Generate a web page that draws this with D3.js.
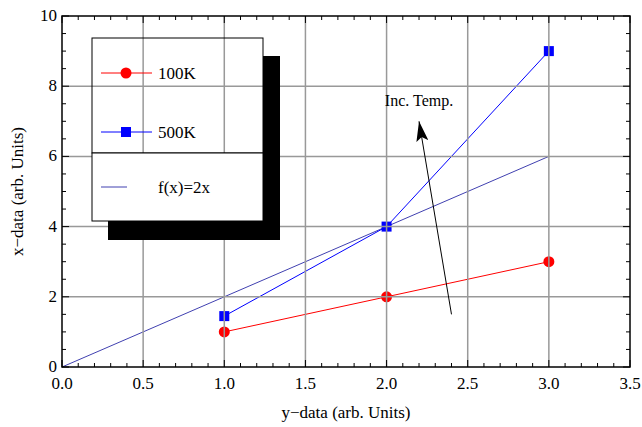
<!DOCTYPE html>
<html lang="en">
<head>
  <meta charset="UTF-8">
  <title>x-data vs y-data</title>
  <style>
    body { margin: 0; background: #fff; }
    svg text { font-family: "Liberation Serif", "DejaVu Serif", serif; fill: #000; }
  </style>
  <script src="https://d3js.org/d3.v7.min.js"></script>
</head>
<body>
<div id="chart"></div>
<script>
  // data
  var xs = [1, 2, 3];
  var series100K = [1, 2, 3];
  var series500K = [1.45, 4, 9];
  var lineX = [0, 3];          // f(x)=2x drawn over this range
  var xTicks = [0, 0.5, 1, 1.5, 2, 2.5, 3, 3.5];
  var yTicks = [0, 2, 4, 6, 8, 10];
  var arrowFrom = [2.4, 1.5];
  var arrowTo = [2.2, 7.0];

  var width = 642, height = 427;
  var pL = 62, pR = 630, pT = 16, pB = 367;

  var x = d3.scaleLinear().domain([0, 3.5]).range([pL, pR]);
  var y = d3.scaleLinear().domain([0, 10]).range([pB, pT]);

  var svg = d3.select("#chart").append("svg")
    .attr("width", width)
    .attr("height", height);

  svg.append("defs").append("marker")
    .attr("id", "head")
    .attr("viewBox", "0 0 20 12")
    .attr("refX", 20).attr("refY", 6)
    .attr("markerWidth", 20).attr("markerHeight", 12)
    .attr("markerUnits", "userSpaceOnUse")
    .attr("orient", "auto")
    .append("path")
    .attr("d", "M0,0 L20,6 L0,12 L4,6 Z")
    .attr("fill", "#000");

  // f(x)=2x
  var fLine = d3.line().x(function(d) { return x(d); }).y(function(d) { return y(2 * d); });
  svg.append("path")
    .datum(lineX)
    .attr("d", fLine)
    .attr("fill", "none")
    .attr("stroke", "#4040b0")
    .attr("stroke-width", 1);

  var line = d3.line()
    .x(function(d, i) { return x(xs[i]); })
    .y(function(d) { return y(d); });

  svg.append("path").datum(series100K).attr("d", line)
    .attr("fill", "none").attr("stroke", "#ff0000").attr("stroke-width", 1);
  svg.append("path").datum(series500K).attr("d", line)
    .attr("fill", "none").attr("stroke", "#0000ff").attr("stroke-width", 1);

  svg.selectAll(".dot100").data(series100K).enter().append("circle")
    .attr("cx", function(d, i) { return x(xs[i]); })
    .attr("cy", function(d) { return y(d); })
    .attr("r", 5.5)
    .attr("fill", "#ff0000");

  svg.selectAll(".sq500").data(series500K).enter().append("rect")
    .attr("x", function(d, i) { return x(xs[i]) - 5; })
    .attr("y", function(d) { return y(d) - 5; })
    .attr("width", 10).attr("height", 10)
    .attr("fill", "#0000ff");

  // grid lines (on top of data, like the original)
  var grid = svg.append("g").attr("stroke", "#999").attr("stroke-width", 1.5);
  grid.selectAll(".gx").data(xTicks.filter(function(d) { return d > 0 && d < 3.5; })).enter().append("line")
    .attr("x1", function(d) { return x(d); }).attr("x2", function(d) { return x(d); })
    .attr("y1", pT).attr("y2", pB);
  grid.selectAll(".gy").data(yTicks.filter(function(d) { return d > 0 && d < 10; })).enter().append("line")
    .attr("y1", function(d) { return y(d); }).attr("y2", function(d) { return y(d); })
    .attr("x1", pL).attr("x2", pR);

  // arrow + label
  svg.append("line")
    .attr("x1", x(arrowFrom[0])).attr("y1", y(arrowFrom[1]))
    .attr("x2", x(arrowTo[0])).attr("y2", y(arrowTo[1]))
    .attr("stroke", "#000").attr("stroke-width", 1)
    .attr("marker-end", "url(#head)");
  svg.append("text")
    .attr("x", x(arrowTo[0])).attr("y", y(7.45))
    .attr("text-anchor", "middle")
    .attr("font-size", 16)
    .text("Inc. Temp.");

  // frame and ticks
  var axisG = svg.append("g");
  function minorTicks(lo, hi, step) {
    var out = [];
    for (var v = lo; v <= hi + 1e-9; v += step) out.push(+v.toFixed(3));
    return out;
  }
  var xMinor = minorTicks(0, 3.5, 0.1);
  var yMinor = minorTicks(0, 10, 0.5);
  function isMajor(v, step) { return Math.abs(v / step - Math.round(v / step)) < 1e-6; }

  axisG.selectAll(".tb").data(xMinor).enter().append("line")
    .attr("x1", function(d) { return x(d); }).attr("x2", function(d) { return x(d); })
    .attr("y1", pB).attr("y2", function(d) { return pB - (isMajor(d, 0.5) ? 7 : 4); })
    .attr("stroke", "#000").attr("stroke-width", 1);
  axisG.selectAll(".tt").data(xMinor).enter().append("line")
    .attr("x1", function(d) { return x(d); }).attr("x2", function(d) { return x(d); })
    .attr("y1", pT).attr("y2", function(d) { return pT + (isMajor(d, 0.5) ? 7 : 4); })
    .attr("stroke", "#000").attr("stroke-width", 1);
  axisG.selectAll(".tl").data(yMinor).enter().append("line")
    .attr("y1", function(d) { return y(d); }).attr("y2", function(d) { return y(d); })
    .attr("x1", pL).attr("x2", function(d) { return pL + (isMajor(d, 2) ? 7 : 4); })
    .attr("stroke", "#000").attr("stroke-width", 1);
  axisG.selectAll(".tr").data(yMinor).enter().append("line")
    .attr("y1", function(d) { return y(d); }).attr("y2", function(d) { return y(d); })
    .attr("x1", pR).attr("x2", function(d) { return pR - (isMajor(d, 2) ? 7 : 4); })
    .attr("stroke", "#000").attr("stroke-width", 1);

  axisG.append("rect")
    .attr("x", pL).attr("y", pT)
    .attr("width", pR - pL).attr("height", pB - pT)
    .attr("fill", "none").attr("stroke", "#000").attr("stroke-width", 1.5);

  // tick labels
  svg.selectAll(".xl").data(xTicks).enter().append("text")
    .attr("x", function(d) { return x(d); })
    .attr("y", pB + 22)
    .attr("text-anchor", "middle")
    .attr("font-size", 17)
    .text(function(d) { return d.toFixed(1); });
  svg.selectAll(".yl").data(yTicks).enter().append("text")
    .attr("x", pL - 5)
    .attr("y", function(d) { return y(d) + 5; })
    .attr("text-anchor", "end")
    .attr("font-size", 17)
    .text(function(d) { return d; });

  // axis titles
  svg.append("text")
    .attr("x", (pL + pR) / 2).attr("y", 418)
    .attr("text-anchor", "middle")
    .attr("font-size", 17)
    .text("y\u2212data (arb. Units)");
  svg.append("text")
    .attr("transform", "translate(23," + ((pT + pB) / 2) + ") rotate(-90)")
    .attr("text-anchor", "middle")
    .attr("font-size", 17)
    .text("x\u2212data (arb. Units)");

  // legend with drop shadow
  var lg = svg.append("g");
  lg.append("path")
    .attr("d", "M263,56 H280 V240 H108 V221 H263 Z")
    .attr("fill", "#000");
  lg.append("rect")
    .attr("x", 92).attr("y", 38).attr("width", 171).attr("height", 115)
    .attr("fill", "none").attr("stroke", "#000").attr("stroke-width", 1);
  lg.append("rect")
    .attr("x", 92).attr("y", 153).attr("width", 171).attr("height", 68)
    .attr("fill", "#fff").attr("stroke", "#000").attr("stroke-width", 1);

  lg.append("line").attr("x1", 101).attr("x2", 152).attr("y1", 73).attr("y2", 73)
    .attr("stroke", "#ff0000");
  lg.append("circle").attr("cx", 126).attr("cy", 73).attr("r", 5.5).attr("fill", "#ff0000");
  lg.append("text").attr("x", 158).attr("y", 79).attr("font-size", 17).text("100K");

  lg.append("line").attr("x1", 101).attr("x2", 152).attr("y1", 132).attr("y2", 132)
    .attr("stroke", "#0000ff");
  lg.append("rect").attr("x", 121).attr("y", 127).attr("width", 10).attr("height", 10).attr("fill", "#0000ff");
  lg.append("text").attr("x", 158).attr("y", 138).attr("font-size", 17).text("500K");

  lg.append("line").attr("x1", 101).attr("x2", 127).attr("y1", 187).attr("y2", 187)
    .attr("stroke", "#4040b0");
  lg.append("text").attr("x", 158).attr("y", 193).attr("font-size", 17).text("f(x)=2x");
</script>
</body>
</html>
